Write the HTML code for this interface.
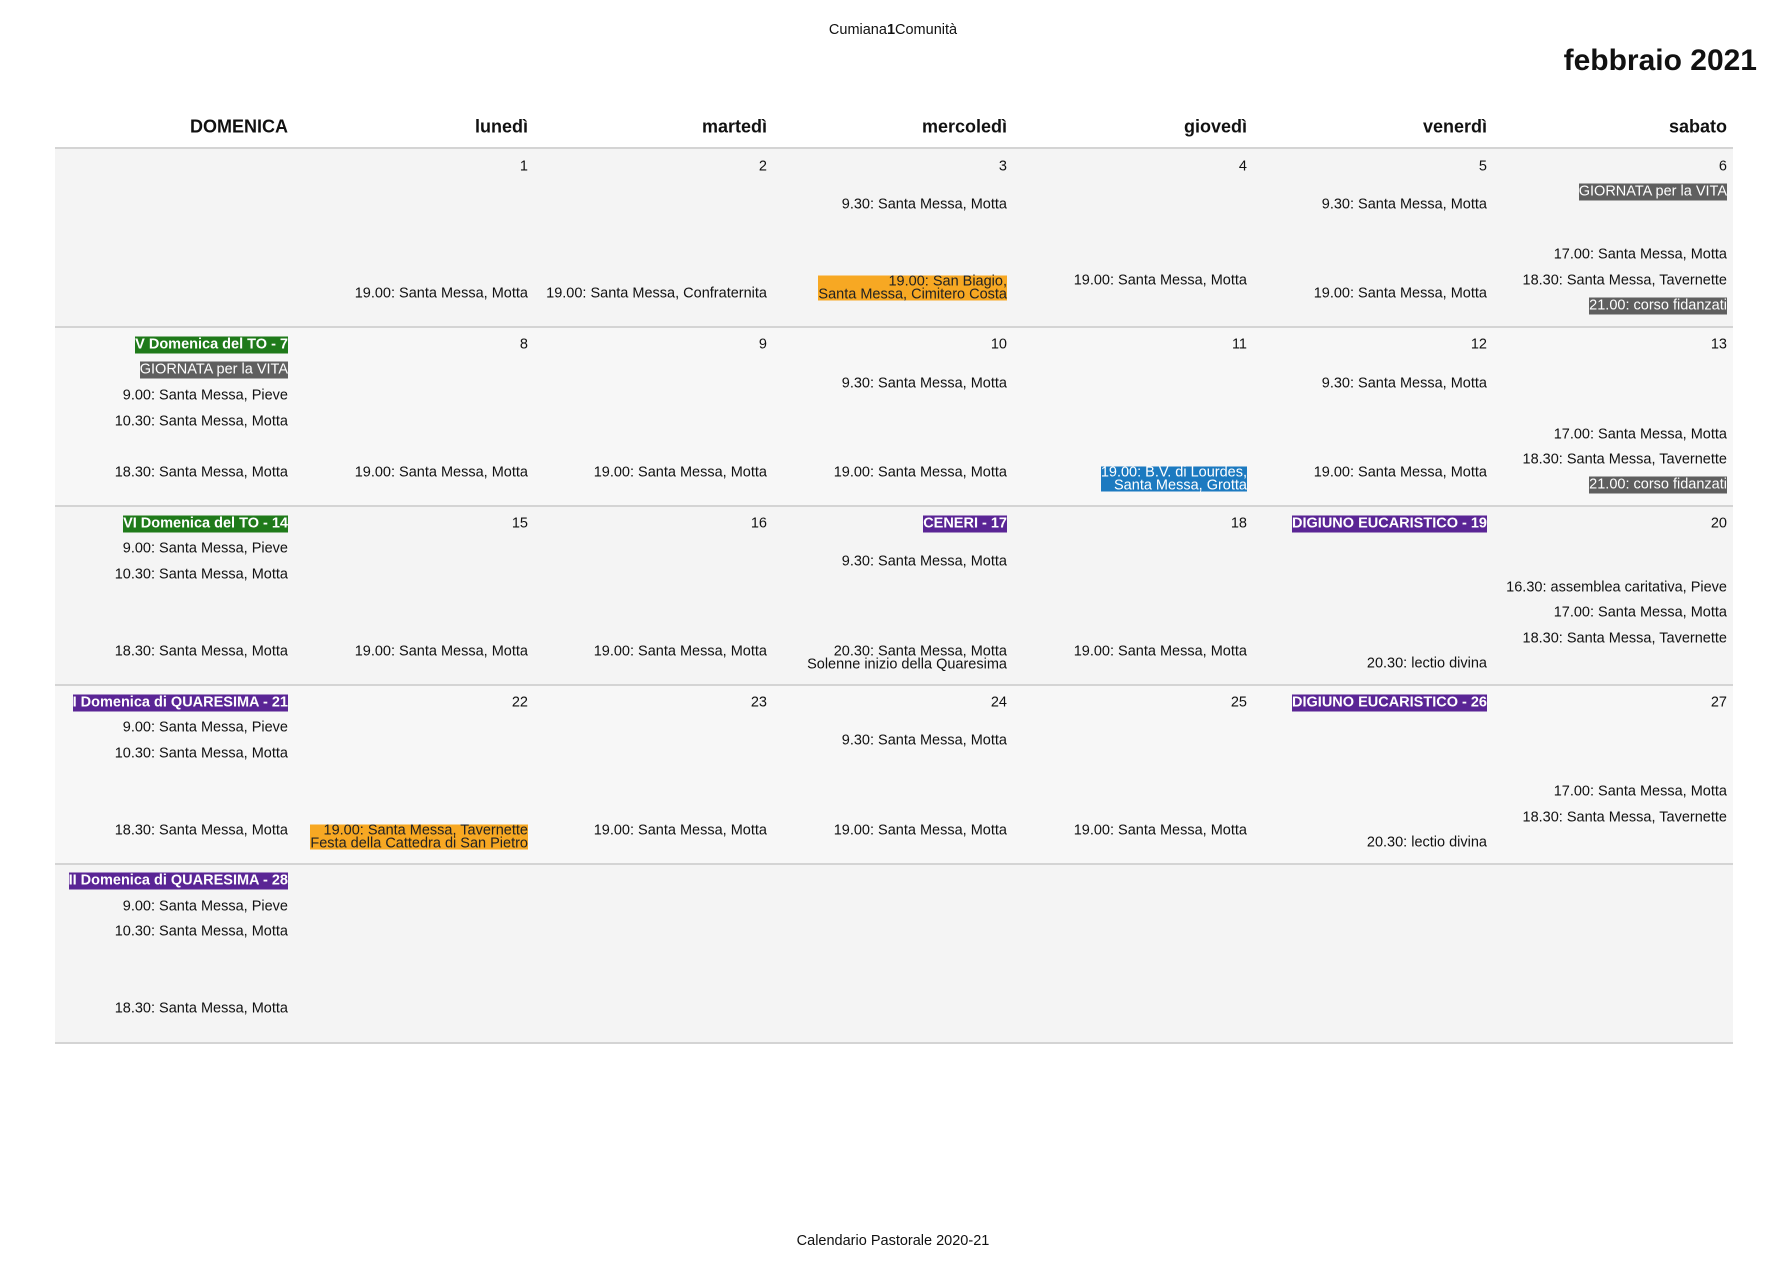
<!DOCTYPE html>
<html><head><meta charset="utf-8"><style>
body{margin:0;width:1786px;height:1263px;background:#fff;position:relative;overflow:hidden;font-family:"Liberation Sans",Arial,sans-serif;color:#111}
.a{position:absolute}
.row{position:absolute;left:55px;width:1678px;border-bottom:2px solid #d4d4d4;box-sizing:border-box}
.col{position:absolute;top:2px;height:1263px;width:233px}
.i{position:absolute;right:0;white-space:nowrap;font-size:14.5px;line-height:17px;transform:translateY(-50%)}
.h{font-size:18px;font-weight:bold}
.two{line-height:12.5px;text-align:right}
.gr{background:#5f5f5f;color:#fff}
.gn{background:#1f7a1a;color:#fff;font-weight:bold}
.pu{background:#5a2595;color:#fff;font-weight:bold}
.or{background:#f7a823;color:#222}
.bl{background:#1c7ac0;color:#fff}
</style></head><body>
<div class="a" style="left:0;width:1786px;top:22px;text-align:center;font-size:14.5px">Cumiana<b>1</b>Comunità</div>
<div class="a" style="right:29px;top:44px;font-size:30px;font-weight:bold">febbraio 2021</div>
<div class="row" style="top:147px;height:2px;border-bottom:2px solid #d4d4d4"></div>
<div class="row" style="top:149px;height:179px;background:#f4f4f4"></div>
<div class="row" style="top:328px;height:179px;background:#f7f7f7"></div>
<div class="row" style="top:507px;height:179px;background:#f4f4f4"></div>
<div class="row" style="top:686px;height:179px;background:#f7f7f7"></div>
<div class="row" style="top:865px;height:179px;background:#f4f4f4"></div>

<div class="col" style="left:55px">
<div class="i h" style="top:125px">DOMENICA</div>
<div class="i gn" style="top:343px">V Domenica del TO - 7</div>
<div class="i gr" style="top:368px">GIORNATA per la VITA</div>
<div class="i" style="top:394px">9.00: Santa Messa, Pieve</div>
<div class="i" style="top:420px">10.30: Santa Messa, Motta</div>
<div class="i" style="top:471px">18.30: Santa Messa, Motta</div>
<div class="i gn" style="top:522px">VI Domenica del TO - 14</div>
<div class="i" style="top:547px">9.00: Santa Messa, Pieve</div>
<div class="i" style="top:573px">10.30: Santa Messa, Motta</div>
<div class="i" style="top:650px">18.30: Santa Messa, Motta</div>
<div class="i pu" style="top:701px">I Domenica di QUARESIMA - 21</div>
<div class="i" style="top:726px">9.00: Santa Messa, Pieve</div>
<div class="i" style="top:752px">10.30: Santa Messa, Motta</div>
<div class="i" style="top:829px">18.30: Santa Messa, Motta</div>
<div class="i pu" style="top:879px">II Domenica di QUARESIMA - 28</div>
<div class="i" style="top:905px">9.00: Santa Messa, Pieve</div>
<div class="i" style="top:930px">10.30: Santa Messa, Motta</div>
<div class="i" style="top:1007px">18.30: Santa Messa, Motta</div>
</div>

<div class="col" style="left:295px">
<div class="i h" style="top:125px">lunedì</div>
<div class="i" style="top:165px">1</div>
<div class="i" style="top:292px">19.00: Santa Messa, Motta</div>
<div class="i" style="top:343px">8</div>
<div class="i" style="top:471px">19.00: Santa Messa, Motta</div>
<div class="i" style="top:522px">15</div>
<div class="i" style="top:650px">19.00: Santa Messa, Motta</div>
<div class="i" style="top:701px">22</div>
<div class="i two or" style="top:835px">19.00: Santa Messa, Tavernette<br>Festa della Cattedra di San Pietro</div>
</div>

<div class="col" style="left:534px">
<div class="i h" style="top:125px">martedì</div>
<div class="i" style="top:165px">2</div>
<div class="i" style="top:292px">19.00: Santa Messa, Confraternita</div>
<div class="i" style="top:343px">9</div>
<div class="i" style="top:471px">19.00: Santa Messa, Motta</div>
<div class="i" style="top:522px">16</div>
<div class="i" style="top:650px">19.00: Santa Messa, Motta</div>
<div class="i" style="top:701px">23</div>
<div class="i" style="top:829px">19.00: Santa Messa, Motta</div>
</div>

<div class="col" style="left:774px">
<div class="i h" style="top:125px">mercoledì</div>
<div class="i" style="top:165px">3</div>
<div class="i" style="top:203px">9.30: Santa Messa, Motta</div>
<div class="i two or" style="top:286px">19.00: San Biagio,<br>Santa Messa, Cimitero Costa</div>
<div class="i" style="top:343px">10</div>
<div class="i" style="top:382px">9.30: Santa Messa, Motta</div>
<div class="i" style="top:471px">19.00: Santa Messa, Motta</div>
<div class="i pu" style="top:522px">CENERI - 17</div>
<div class="i" style="top:560px">9.30: Santa Messa, Motta</div>
<div class="i two" style="top:656px">20.30: Santa Messa, Motta<br>Solenne inizio della Quaresima</div>
<div class="i" style="top:701px">24</div>
<div class="i" style="top:739px">9.30: Santa Messa, Motta</div>
<div class="i" style="top:829px">19.00: Santa Messa, Motta</div>
</div>

<div class="col" style="left:1014px">
<div class="i h" style="top:125px">giovedì</div>
<div class="i" style="top:165px">4</div>
<div class="i" style="top:279px">19.00: Santa Messa, Motta</div>
<div class="i" style="top:343px">11</div>
<div class="i two bl" style="top:477px">19.00: B.V. di Lourdes,<br>Santa Messa, Grotta</div>
<div class="i" style="top:522px">18</div>
<div class="i" style="top:650px">19.00: Santa Messa, Motta</div>
<div class="i" style="top:701px">25</div>
<div class="i" style="top:829px">19.00: Santa Messa, Motta</div>
</div>

<div class="col" style="left:1254px">
<div class="i h" style="top:125px">venerdì</div>
<div class="i" style="top:165px">5</div>
<div class="i" style="top:203px">9.30: Santa Messa, Motta</div>
<div class="i" style="top:292px">19.00: Santa Messa, Motta</div>
<div class="i" style="top:343px">12</div>
<div class="i" style="top:382px">9.30: Santa Messa, Motta</div>
<div class="i" style="top:471px">19.00: Santa Messa, Motta</div>
<div class="i pu" style="top:522px">DIGIUNO EUCARISTICO - 19</div>
<div class="i" style="top:662px">20.30: lectio divina</div>
<div class="i pu" style="top:701px">DIGIUNO EUCARISTICO - 26</div>
<div class="i" style="top:841px">20.30: lectio divina</div>
</div>

<div class="col" style="left:1494px">
<div class="i h" style="top:125px">sabato</div>
<div class="i" style="top:165px">6</div>
<div class="i gr" style="top:190px">GIORNATA per la VITA</div>
<div class="i" style="top:253px">17.00: Santa Messa, Motta</div>
<div class="i" style="top:279px">18.30: Santa Messa, Tavernette</div>
<div class="i gr" style="top:304px">21.00: corso fidanzati</div>
<div class="i" style="top:343px">13</div>
<div class="i" style="top:433px">17.00: Santa Messa, Motta</div>
<div class="i" style="top:458px">18.30: Santa Messa, Tavernette</div>
<div class="i gr" style="top:483px">21.00: corso fidanzati</div>
<div class="i" style="top:522px">20</div>
<div class="i" style="top:586px">16.30: assemblea caritativa, Pieve</div>
<div class="i" style="top:611px">17.00: Santa Messa, Motta</div>
<div class="i" style="top:637px">18.30: Santa Messa, Tavernette</div>
<div class="i" style="top:701px">27</div>
<div class="i" style="top:790px">17.00: Santa Messa, Motta</div>
<div class="i" style="top:816px">18.30: Santa Messa, Tavernette</div>
</div>

<div class="a" style="left:0;width:1786px;top:1233px;text-align:center;font-size:14.5px">Calendario Pastorale 2020-21</div>
</body></html>
